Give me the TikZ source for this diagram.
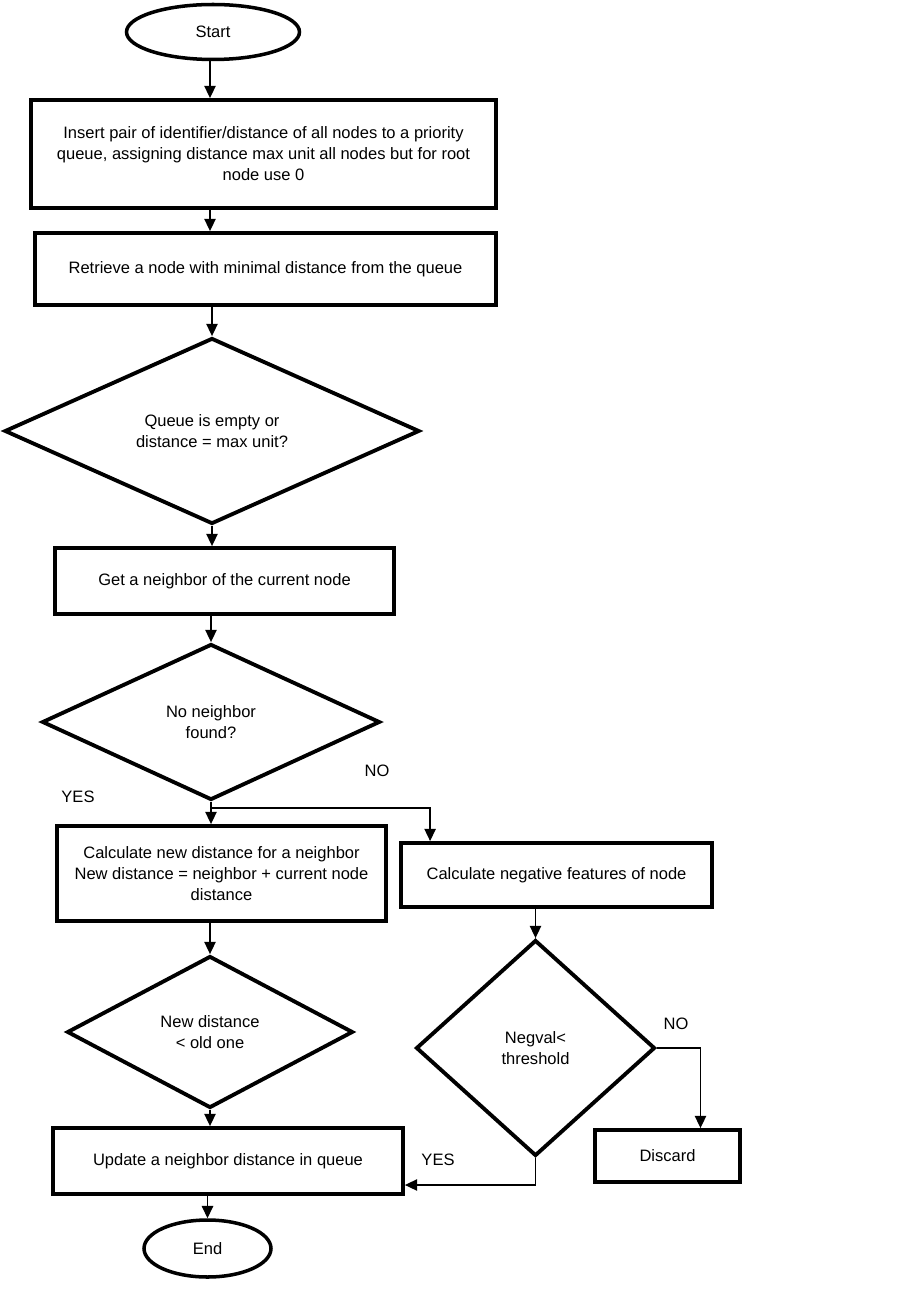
\documentclass[tikz,border=0pt]{standalone}
\usepackage{fontspec}
\setmainfont{Liberation Sans}
\usetikzlibrary{shapes,arrows.meta,positioning}

\begin{document}
\begin{tikzpicture}[
    x=0.02cm, y=-0.02cm,
    font=\fontsize{9.4}{11.9}\selectfont,
    block/.style={draw, line width=2.2pt, align=center, inner sep=2pt},
    decision/.style={draw, diamond, line width=2.2pt, align=center, inner sep=0pt},
    terminal/.style={draw, ellipse, line width=2pt, inner sep=0pt},
    arrow/.style={-{Triangle[length=7pt,width=6.5pt]}, line width=0.75pt},
    lbl/.style={inner sep=1pt}
]
    \useasboundingbox (0,0) rectangle (900,1300);
    \fill[white] (0,0) rectangle (900,1300);

    % main column
    \node[terminal, minimum width=3.46cm, minimum height=1.1cm] (start) at (213,32) {Start};
    \node[block, minimum width=9.3cm, minimum height=2.16cm] (insert) at (263.5,154) {Insert pair of identifier/distance of all nodes to a priority\\queue, assigning distance max unit all nodes but for root\\node use 0};
    \node[block, minimum width=9.22cm, minimum height=1.44cm] (retrieve) at (265.5,269) {Retrieve a node with minimal distance from the queue};
    \node[decision, aspect=2.2, minimum width=8.3cm, minimum height=3.72cm] (empty) at (212,431) {Queue is empty or\\distance = max unit?};
    \node[block, minimum width=6.78cm, minimum height=1.32cm] (getnb) at (224.5,581) {Get a neighbor of the current node};
    \node[decision, aspect=2.2, minimum width=6.76cm, minimum height=3.12cm] (nofound) at (211,722) {No neighbor\\found?};
    \node[block, minimum width=6.58cm, minimum height=1.9cm] (calc) at (221.5,873.5) {Calculate new distance for a neighbor\\New distance = neighbor + current node\\distance};
    \node[decision, aspect=1.9, minimum width=5.72cm, minimum height=3.04cm] (newdist) at (210,1032) {New distance\\< old one};
    \node[block, minimum width=7cm, minimum height=1.32cm] (update) at (228,1161) {Update a neighbor distance in queue};
    \node[terminal, minimum width=2.54cm, minimum height=1.14cm] (end) at (207.5,1248.5) {End};

    % right branch
    \node[block, minimum width=6.22cm, minimum height=1.28cm] (negfeat) at (556.5,875) {Calculate negative features of node};
    \node[decision, aspect=1.1, minimum width=4.78cm, minimum height=4.32cm] (negval) at (535.5,1048) {Negval<\\threshold};
    \node[block, minimum width=2.9cm, minimum height=1.04cm] (discard) at (667.5,1156) {Discard};

    % branch labels
    \node[lbl] (no1) at (377,771) {NO};
    \node[lbl] (yes1) at (78,797) {YES};
    \node[lbl] (no2) at (676,1024) {NO};
    \node[lbl] (yes2) at (438,1160) {YES};

    \coordinate (col) at (210,0);

    \draw[arrow] (col |- start.south) -- (col |- insert.north);
    \draw[arrow] (col |- insert.south) -- (col |- retrieve.north);
    \draw[arrow] (empty.north |- retrieve.south) -- (empty.north);
    \draw[arrow] (empty.south) -- (empty.south |- getnb.north);
    \draw[arrow] (nofound.north |- getnb.south) -- (nofound.north);
    \draw[arrow] (nofound.south) -- (nofound.south |- calc.north);
    \draw[arrow] ([yshift=-0.12cm]nofound.south) -| ([xshift=0.62cm]negfeat.north west);
    \draw[arrow] (newdist.north |- calc.south) -- (newdist.north);
    \draw[arrow] (newdist.south) -- (newdist.south |- update.north);
    \draw[arrow] (end.north |- update.south) -- (end.north);
    \draw[arrow] (negval.north |- negfeat.south) -- (negval.north);
    \draw[arrow] (negval.east) -| ([xshift=0.66cm]discard.north);
    \draw[arrow] (negval.south) |- ([yshift=-0.48cm]update.east);
\end{tikzpicture}
\end{document}
